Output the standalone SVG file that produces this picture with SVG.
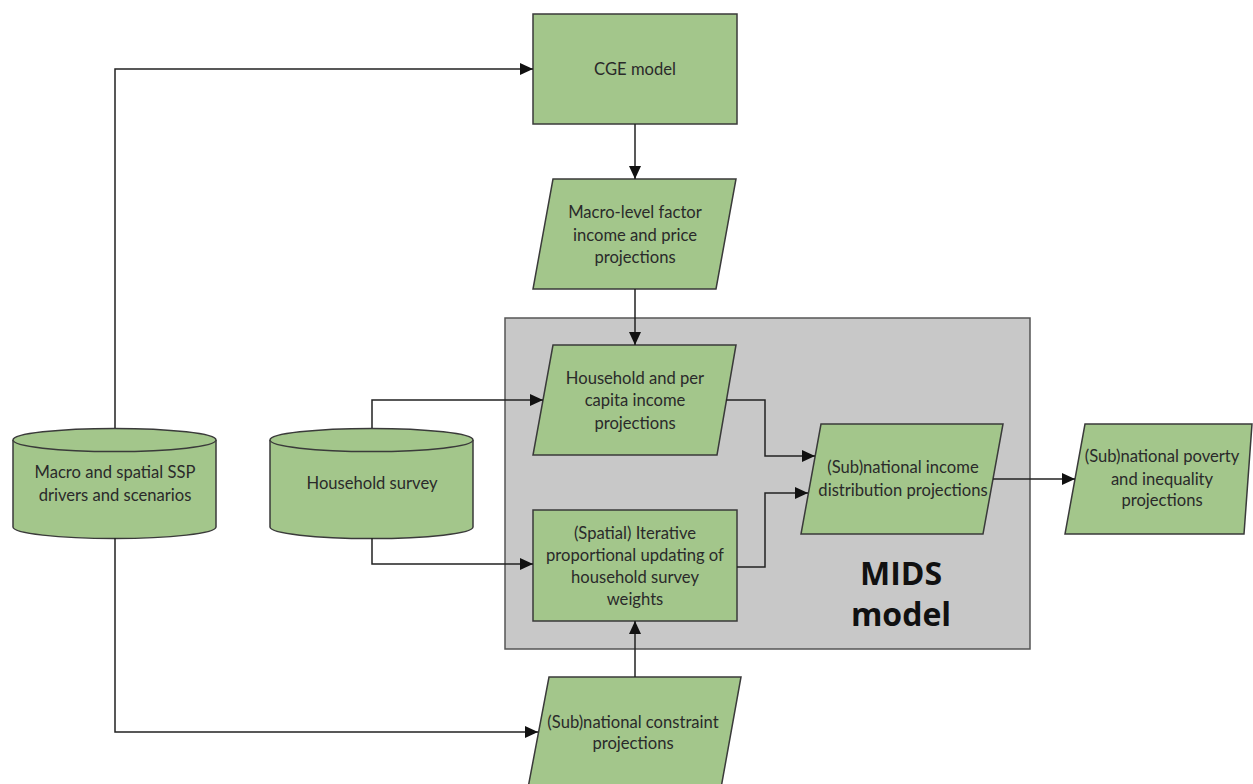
<svg xmlns="http://www.w3.org/2000/svg" width="1253" height="784" viewBox="0 0 1253 784">
<defs>
<style>
.n{fill:#a3c68b;stroke:#3a3a3a;stroke-width:1.5}
.t{font-family:Lato,"Open Sans","Liberation Sans",sans-serif;font-size:16.6px;fill:#2a2a2a;text-anchor:middle;dominant-baseline:central}
.c{fill:none;stroke:#222;stroke-width:1.5}
.mids{fill:#c8c8c8;stroke:#555;stroke-width:1.5}
.big{font-family:"Open Sans","Liberation Sans",sans-serif;font-size:32px;font-weight:bold;fill:#111;text-anchor:middle}
</style>
<marker id="ar" markerUnits="userSpaceOnUse" markerWidth="14" markerHeight="12" refX="13" refY="6" orient="auto">
<path d="M0,0 L13,6 L0,12 Z" fill="#111"/>
</marker>
</defs>
<rect id="mids-model" class="mids" x="505" y="318" width="525" height="331"/>
<text class="big" x="901" y="585">MIDS</text>
<text class="big" x="901" y="626">model</text>
<g id="cge-model">
<rect class="n" x="533" y="14" width="204" height="110"/>
<text class="t" x="635" y="69">CGE model</text>
</g>
<g id="macro-level">
<polygon class="n" points="553,179 736,179 716,289 533,289"/>
<text class="t" x="635" y="212">Macro-level factor</text>
<text class="t" x="635" y="235">income and price</text>
<text class="t" x="635" y="257">projections</text>
</g>
<g id="household-income">
<polygon class="n" points="553,345 736,345 717,455 533,455"/>
<text class="t" x="635" y="378">Household and per</text>
<text class="t" x="635" y="400">capita income</text>
<text class="t" x="635" y="423">projections</text>
</g>
<g id="ipu">
<rect class="n" x="533" y="510" width="204" height="111"/>
<text class="t" x="635" y="533">(Spatial) Iterative</text>
<text class="t" x="635" y="555">proportional updating of</text>
<text class="t" x="635" y="577">household survey</text>
<text class="t" x="635" y="599">weights</text>
</g>
<g id="income-distribution">
<polygon class="n" points="821,424 1003,424 983,534 801,534"/>
<text class="t" x="903" y="467">(Sub)national income</text>
<text class="t" x="903" y="490">distribution projections</text>
</g>
<g id="poverty">
<polygon class="n" points="1085,424 1252,424 1244,534 1065,534"/>
<text class="t" x="1162" y="456">(Sub)national poverty</text>
<text class="t" x="1162" y="479">and inequality</text>
<text class="t" x="1162" y="500">projections</text>
</g>
<g id="constraint">
<polygon class="n" points="549,677 741,677 721,788 528,788"/>
<text class="t" x="633" y="722">(Sub)national constraint</text>
<text class="t" x="633" y="743">projections</text>
</g>
<g id="macro-ssp">
<path class="n" d="M13,440 V527 A101.5,11.5 0 0 0 216,527 V440"/>
<ellipse class="n" cx="114.5" cy="440" rx="101.5" ry="11.5"/>
<text class="t" x="115" y="472">Macro and spatial SSP</text>
<text class="t" x="115" y="495">drivers and scenarios</text>
</g>
<g id="household-survey">
<path class="n" d="M270,440 V527 A101.5,11.5 0 0 0 473,527 V440"/>
<ellipse class="n" cx="371.5" cy="440" rx="101.5" ry="11.5"/>
<text class="t" x="372" y="483">Household survey</text>
</g>
<g id="connectors">
<path class="c" marker-end="url(#ar)" d="M115,428 V69 H533"/>
<path class="c" marker-end="url(#ar)" d="M635,124 V179"/>
<path class="c" marker-end="url(#ar)" d="M635,289 V345"/>
<path class="c" marker-end="url(#ar)" d="M372,428 V400 H543"/>
<path class="c" marker-end="url(#ar)" d="M372,538 V564 H533"/>
<path class="c" marker-end="url(#ar)" d="M726,400 H765 V456 H815"/>
<path class="c" marker-end="url(#ar)" d="M737,567 H765 V493 H808"/>
<path class="c" marker-end="url(#ar)" d="M993,479 H1075"/>
<path class="c" marker-end="url(#ar)" d="M635,677 V621"/>
<path class="c" marker-end="url(#ar)" d="M115,538 V732 H538"/>
</g>
</svg>
